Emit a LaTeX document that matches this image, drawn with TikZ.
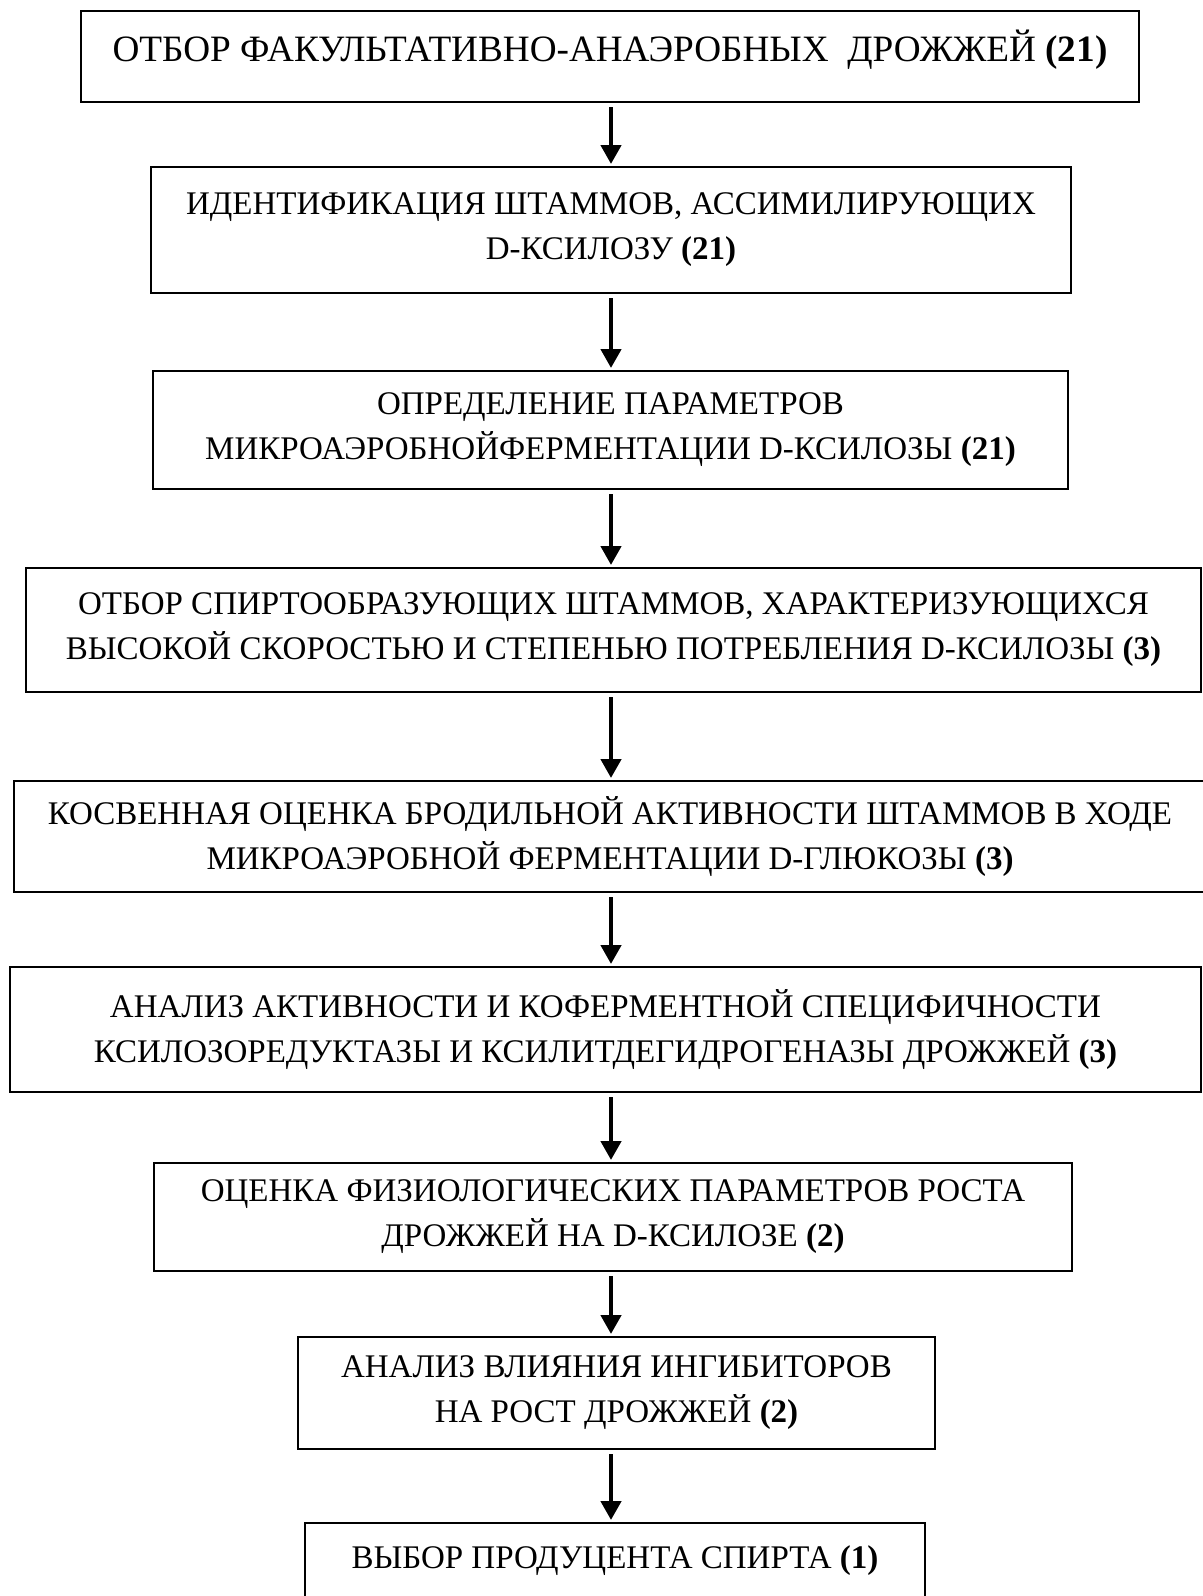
\documentclass[tikz,border=0pt]{standalone}
\usepackage{fontspec}
\setmainfont{Liberation Serif}
\usetikzlibrary{arrows.meta}

\definecolor{boxline}{RGB}{0,0,0}
\definecolor{arrowc}{RGB}{0,0,0}

\begin{document}
\begin{tikzpicture}[x=0.5pt, y=-0.5pt,
    stage/.style={draw=boxline, line width=1pt, align=center, inner sep=0pt,
      font=\fontsize{16.5}{22.5}\selectfont},
    flow/.style={arrowc, line width=2.2pt, -{Triangle[width=10pt,length=9.5pt]},
      shorten <=2pt, shorten >=1pt}]

  \useasboundingbox (0,0) rectangle (1203,1596);
  \coordinate (spine) at (611,0);

  % stages
  \node[stage, font=\fontsize{18.6}{24}\selectfont, text depth=11pt,
    minimum width=1058*0.5pt, minimum height=91*0.5pt] (sel) at (610,56.5)
    {ОТБОР ФАКУЛЬТАТИВНО-АНАЭРОБНЫХ~ ДРОЖЖЕЙ \textbf{(21)}};
  \node[stage, minimum width=920*0.5pt, minimum height=126*0.5pt] (ident) at (611,230)
    {ИДЕНТИФИКАЦИЯ ШТАММОВ, АССИМИЛИРУЮЩИХ\\D-КСИЛОЗУ \textbf{(21)}};
  \node[stage, minimum width=915*0.5pt, minimum height=118*0.5pt] (param) at (610.5,430)
    {ОПРЕДЕЛЕНИЕ ПАРАМЕТРОВ\\МИКРОАЭРОБНОЙФЕРМЕНТАЦИИ D-КСИЛОЗЫ \textbf{(21)}};
  \node[stage, minimum width=1175*0.5pt, minimum height=124*0.5pt] (spirit) at (613.5,630)
    {ОТБОР СПИРТООБРАЗУЮЩИХ ШТАММОВ, ХАРАКТЕРИЗУЮЩИХСЯ\\ВЫСОКОЙ СКОРОСТЬЮ И СТЕПЕНЬЮ ПОТРЕБЛЕНИЯ D-КСИЛОЗЫ \textbf{(3)}};
  \node[stage, minimum width=1192*0.5pt, minimum height=111*0.5pt] (ferm) at (610,836.5)
    {КОСВЕННАЯ ОЦЕНКА БРОДИЛЬНОЙ АКТИВНОСТИ ШТАММОВ В ХОДЕ\\МИКРОАЭРОБНОЙ ФЕРМЕНТАЦИИ D-ГЛЮКОЗЫ \textbf{(3)}};
  \node[stage, minimum width=1191*0.5pt, minimum height=125*0.5pt] (enz) at (605.5,1029.5)
    {АНАЛИЗ АКТИВНОСТИ И КОФЕРМЕНТНОЙ СПЕЦИФИЧНОСТИ\\КСИЛОЗОРЕДУКТАЗЫ И КСИЛИТДЕГИДРОГЕНАЗЫ ДРОЖЖЕЙ \textbf{(3)}};
  \node[stage, minimum width=918*0.5pt, minimum height=108*0.5pt] (growth) at (613,1217)
    {ОЦЕНКА ФИЗИОЛОГИЧЕСКИХ ПАРАМЕТРОВ РОСТА\\ДРОЖЖЕЙ НА D-КСИЛОЗЕ \textbf{(2)}};
  \node[stage, minimum width=637*0.5pt, minimum height=112*0.5pt] (inhib) at (616.5,1393)
    {АНАЛИЗ ВЛИЯНИЯ ИНГИБИТОРОВ\\НА РОСТ ДРОЖЖЕЙ \textbf{(2)}};
  \node[stage, minimum width=620*0.5pt, minimum height=76*0.5pt] (prod) at (615,1561)
    {ВЫБОР ПРОДУЦЕНТА СПИРТА \textbf{(1)}};

  % arrows
  \draw[flow] (sel.south -| spine) -- (ident.north -| spine);
  \draw[flow] (ident.south -| spine) -- (param.north -| spine);
  \draw[flow] (param.south -| spine) -- (spirit.north -| spine);
  \draw[flow] (spirit.south -| spine) -- (ferm.north -| spine);
  \draw[flow] (ferm.south -| spine) -- (enz.north -| spine);
  \draw[flow] (enz.south -| spine) -- (growth.north -| spine);
  \draw[flow] (growth.south -| spine) -- (inhib.north -| spine);
  \draw[flow] (inhib.south -| spine) -- (prod.north -| spine);

\end{tikzpicture}
\end{document}
